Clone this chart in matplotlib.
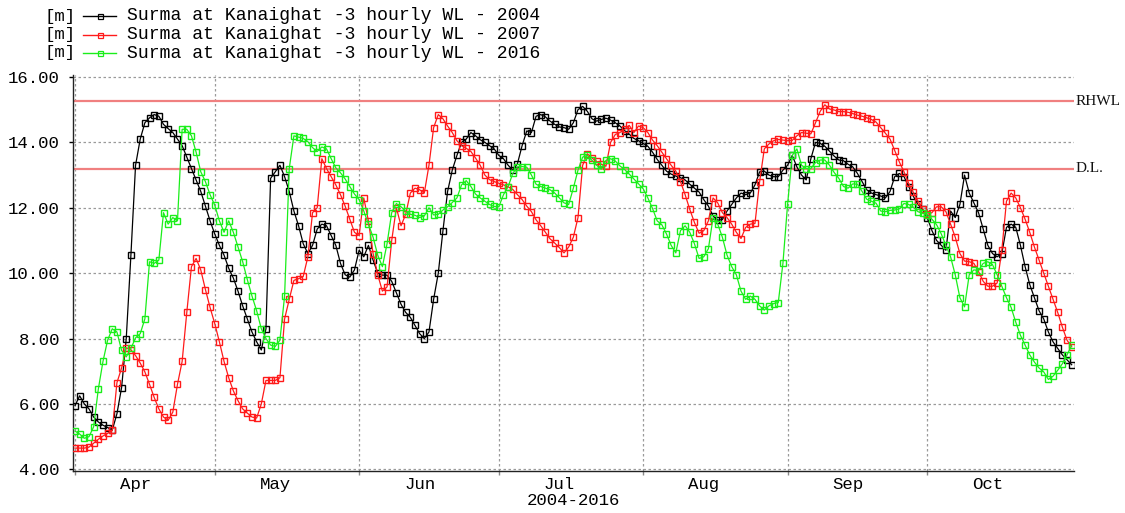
import matplotlib
matplotlib.use("Agg")
import matplotlib.pyplot as plt
from matplotlib.lines import Line2D
import numpy as np

# Daily water level at Surma / Kanaighat, day 0 = 1 April
days = np.arange(215)

wl_2004 = [
    5.95, 6.25, 6.0, 5.85, 5.6, 5.45, 5.35, 5.28, 5.2, 5.7,
    6.5, 8.0, 10.55, 13.3, 14.1, 14.6, 14.75, 14.85, 14.8, 14.55,
    14.42, 14.3, 14.1, 13.9, 13.55, 13.2, 12.85, 12.5, 12.05, 11.6,
    11.2, 10.85, 10.55, 10.15, 9.85, 9.45, 9.0, 8.6, 8.2, 7.9,
    7.65, 8.3, 12.9, 13.1, 13.3, 12.95, 12.5, 11.9, 11.45, 10.9,
    10.6, 10.85, 11.35, 11.5, 11.45, 11.15, 10.85, 10.3, 9.95, 9.88,
    10.1, 10.7, 10.5, 10.85, 10.4, 10.0, 9.94, 9.94, 9.75, 9.4,
    9.05, 8.8, 8.65, 8.4, 8.15, 8.0, 8.2, 9.2, 10.0, 11.3,
    12.5, 13.15, 13.6, 14.0, 14.1, 14.3, 14.2, 14.08, 14.0, 13.9,
    13.8, 13.6, 13.5, 13.3, 13.15, 13.35, 13.9, 14.35, 14.3, 14.8,
    14.85, 14.78, 14.65, 14.55, 14.47, 14.45, 14.4, 14.6, 15.0, 15.1,
    14.95, 14.72, 14.65, 14.7, 14.74, 14.68, 14.6, 14.5, 14.36, 14.25,
    14.12, 14.05, 13.97, 13.88, 13.7, 13.48, 13.3, 13.12, 13.03, 12.97,
    12.92, 12.85, 12.72, 12.6, 12.48, 12.25, 12.05, 11.75, 11.62, 11.64,
    11.9, 12.1, 12.3, 12.45, 12.4, 12.45, 12.7, 13.1, 13.12, 13.0,
    12.95, 12.95, 13.15, 13.3, 13.6, 13.25, 13.0, 12.85, 13.5, 14.0,
    13.97, 13.88, 13.73, 13.58, 13.46, 13.44, 13.33, 13.25, 13.05, 12.8,
    12.55, 12.45, 12.4, 12.36, 12.3, 12.5, 12.95, 13.05, 12.95, 12.65,
    12.35, 12.1, 11.95, 11.7, 11.3, 11.0, 10.85, 10.7, 11.9, 11.7,
    12.1, 13.0, 12.45, 12.15, 11.85, 11.35, 10.85, 10.6, 10.5, 10.6,
    11.4, 11.5, 11.4, 10.85, 10.2, 9.65, 9.25, 8.85, 8.6, 8.2,
    7.9, 7.7, 7.5, 7.35, 7.2,
]

wl_2007 = [
    4.65, 4.65, 4.65, 4.68, 4.8, 4.92, 5.02, 5.1, 5.2, 6.65,
    7.1, 7.72, 7.66, 7.48, 7.25, 6.98, 6.6, 6.2, 5.85, 5.6,
    5.5, 5.75, 6.6, 7.3, 8.8, 10.2, 10.45, 10.1, 9.5, 8.95,
    8.46, 7.9, 7.3, 6.8, 6.4, 6.1, 5.85, 5.72, 5.6, 5.57,
    6.0, 6.72, 6.72, 6.72, 6.8, 8.6, 9.2, 9.78, 9.83, 9.9,
    10.5, 11.85, 12.0, 13.5, 13.2, 12.95, 12.7, 12.4, 12.05, 11.65,
    11.25, 11.15, 12.3, 11.6, 10.6, 9.95, 9.45, 9.58, 11.0, 12.0,
    11.45, 11.8, 12.45, 12.6, 12.55, 12.45, 13.3, 14.45, 14.85, 14.72,
    14.5, 14.3, 14.05, 13.9, 13.82, 13.72, 13.52, 13.3, 13.0, 12.86,
    12.8, 12.75, 12.7, 12.64, 12.56, 12.4, 12.25, 12.05, 11.88, 11.63,
    11.45, 11.25, 11.05, 10.92, 10.78, 10.62, 10.8, 11.1, 11.7, 13.3,
    13.65, 13.52, 13.42, 13.33, 13.27, 14.0, 14.24, 14.3, 14.4, 14.52,
    14.3, 14.5, 14.45, 14.3, 14.07, 13.9, 13.7, 13.5, 13.3, 13.12,
    12.8, 12.4, 11.95, 11.55, 11.22, 11.3, 11.6, 12.3, 12.15, 11.85,
    11.7, 11.5, 11.25, 11.06, 11.4, 11.5, 11.52, 12.8, 13.8, 13.95,
    14.05, 14.09, 14.07, 14.05, 14.06, 14.2, 14.3, 14.28, 14.26, 14.6,
    14.95, 15.15, 15.02, 14.99, 14.94, 14.94, 14.92, 14.88, 14.83, 14.8,
    14.75, 14.7, 14.62, 14.45, 14.28, 14.1, 13.75, 13.4, 13.1, 12.75,
    12.47, 12.2, 11.97, 11.8, 11.85, 12.03, 12.03, 11.88, 11.5, 11.1,
    10.6, 10.37, 10.35, 10.3, 10.05, 9.75, 9.6, 9.6, 9.7, 10.7,
    12.2, 12.45, 12.3, 12.0, 11.65, 11.25, 10.8, 10.4, 10.0, 9.6,
    9.2, 8.8, 8.35, 7.95, 7.75,
]

wl_2016 = [
    5.17, 5.08, 4.95, 5.0, 5.3, 6.45, 7.3, 7.95, 8.3, 8.2,
    7.64, 7.44, 7.7, 8.02, 8.15, 8.6, 10.35, 10.3, 10.4, 11.85,
    11.5, 11.7, 11.6, 14.4, 14.4, 14.2, 13.7, 13.1, 12.8, 12.4,
    12.08, 11.6, 11.25, 11.6, 11.25, 10.8, 10.35, 9.8, 9.3, 8.85,
    8.3, 8.0, 7.8, 7.76, 7.95, 9.3, 13.2, 14.2, 14.16, 14.12,
    14.02, 13.84, 13.72, 13.86, 13.8, 13.5, 13.22, 13.07, 12.88, 12.65,
    12.42, 12.25, 11.9, 11.5, 11.1, 10.55, 10.2, 10.9, 11.85, 12.13,
    12.03, 11.9, 11.8, 11.77, 11.7, 11.75, 12.0, 11.78, 11.8, 11.93,
    12.03, 12.16, 12.3, 12.7, 12.83, 12.65, 12.42, 12.3, 12.2, 12.1,
    12.04, 12.03, 12.4, 12.65, 13.05, 13.25, 13.26, 13.24, 13.0, 12.72,
    12.65, 12.6, 12.55, 12.45, 12.3, 12.15, 12.1, 12.6, 13.15, 13.55,
    13.6, 13.45, 13.3, 13.18, 13.45, 13.5, 13.43, 13.28, 13.17, 13.03,
    12.88, 12.73, 12.58, 12.3, 11.98, 11.6, 11.48, 11.2, 10.85, 10.62,
    11.3, 11.45, 11.25, 10.9, 10.45, 10.5, 10.75, 11.7, 11.5, 11.1,
    10.55, 10.2, 9.95, 9.45, 9.2, 9.3, 9.2, 9.0, 8.87, 9.0,
    9.07, 9.1, 10.3, 12.1, 13.6, 13.8, 13.3, 13.2, 13.2, 13.38,
    13.46, 13.46, 13.3, 13.08, 12.9, 12.65, 12.6, 12.73, 12.72, 12.5,
    12.26, 12.2, 12.14, 11.9, 11.88, 11.92, 11.93, 11.97, 12.13, 12.1,
    12.02, 11.88, 11.83, 11.79, 11.65, 11.48, 11.2, 10.85, 10.5, 9.95,
    9.25, 8.97, 9.95, 10.1, 10.08, 10.3, 10.35, 10.26, 9.95, 9.6,
    9.25, 8.95, 8.5, 8.1, 7.8, 7.5, 7.28, 7.1, 6.98, 6.75,
    6.85, 7.03, 7.23, 7.5, 7.8,
]

series_labels = [
    "Surma at Kanaighat -3 hourly WL - 2004",
    "Surma at Kanaighat -3 hourly WL - 2007",
    "Surma at Kanaighat -3 hourly WL - 2016",
]
series_colors = ["#000000", "#ff1a1a", "#1aee1a"]

month_names = ["Apr", "May", "Jun", "Jul", "Aug", "Sep", "Oct"]
month_starts = [0, 30, 61, 91, 122, 153, 183]
y_ticks = [4, 6, 8, 10, 12, 14, 16]

rhwl = 15.25
danger_level = 13.2

MONO = "Liberation Mono"
SERIF = "Liberation Serif"

W, H = 1125, 513
fig = plt.figure(figsize=(W / 100, H / 100), dpi=100)
ax = fig.add_axes([72.5 / W, 42 / H, (1074 - 72.5) / W, (438 - 42) / H])

for vals, col in zip([wl_2004, wl_2007, wl_2016], series_colors):
    ax.plot(days, vals, color=col, lw=0.9, marker="s", markersize=3.8,
            markerfacecolor="none", markeredgecolor=col, markeredgewidth=1.0,
            zorder=3)

# reference levels
ref_color = "#f08080"
for lvl, name in [(rhwl, "RHWL"), (danger_level, "D.L.")]:
    ax.axhline(lvl, color=ref_color, lw=1.6, zorder=2)
    ax.text(1.002, lvl, name, transform=ax.get_yaxis_transform(),
            ha="left", va="center", fontsize=11, family=SERIF, color="#111111")

ax.set_xlim(-0.54, 214.5)
ax.set_ylim(3.95, 16.06)

ax.set_yticks(y_ticks)
ax.set_yticklabels([f"{v:.2f}" for v in y_ticks], family=MONO, fontsize=12.5)
ax.set_xticks([m + 13 for m in month_starts])
ax.set_xticklabels(month_names, family=MONO, fontsize=12.5)
ax.set_xticks(month_starts, minor=True)

ax.tick_params(axis="y", which="major", direction="out", length=3, width=1, pad=6)
ax.tick_params(axis="x", which="major", length=0, pad=4.3)
ax.tick_params(axis="x", which="minor", direction="out", length=3, width=1, color="#888888")

grid_kw = dict(color="#9a9a9a", lw=0.9, linestyle=(0, (2, 2)))
ax.grid(True, axis="y", which="major", **grid_kw)
ax.grid(True, axis="x", which="minor", **grid_kw)
ax.set_axisbelow(True)

for side in ["top", "right"]:
    ax.spines[side].set_visible(False)
for side in ["left", "bottom"]:
    ax.spines[side].set_linewidth(1.0)
    ax.spines[side].set_color("#222222")

ax.set_xlabel("2004-2016", family=MONO, fontsize=12.5, labelpad=0.5)

# legend rows, top left
row_y = [16, 34.5, 53]
for y, lab, col in zip(row_y, series_labels, series_colors):
    fy = 1 - y / H
    fig.text(44 / W, fy, "[m]", family=MONO, fontsize=12.5, ha="left", va="center")
    fig.add_artist(Line2D([83 / W, 116 / W], [fy, fy], color=col, lw=1.0,
                          transform=fig.transFigure))
    fig.add_artist(Line2D([100 / W], [fy], color=col, marker="s", markersize=3.6,
                          markerfacecolor="none", markeredgewidth=0.9,
                          transform=fig.transFigure))
    fig.text(127 / W, fy, lab, family=MONO, fontsize=13.1, ha="left", va="center")

fig.savefig("out.png", dpi=100)
